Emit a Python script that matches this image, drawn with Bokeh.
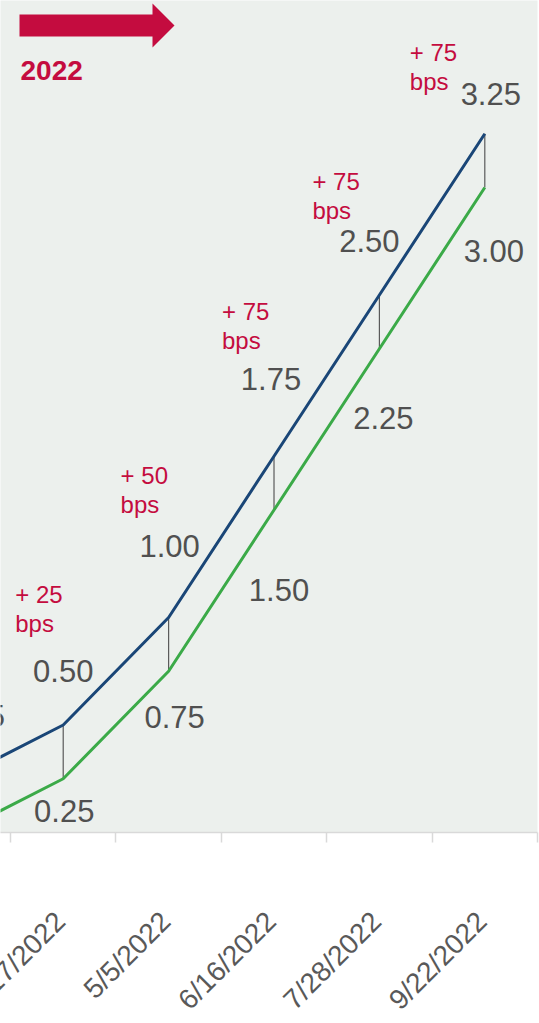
import math
from bokeh.plotting import figure
from bokeh.models import Range1d, FixedTicker, ColumnDataSource
from bokeh.core.properties import value
from bokeh.embed import file_html
from bokeh.resources import INLINE

# ---- data ----
dates = ["3/16/2020", "3/17/2022", "5/5/2022", "6/16/2022", "7/28/2022", "9/22/2022"]
upper = [0.25, 0.50, 1.00, 1.75, 2.50, 3.25]
lower = [0.00, 0.25, 0.75, 1.50, 2.25, 3.00]
hikes = ["", "+ 25", "+ 50", "+ 75", "+ 75", "+ 75"]
year_label = "2022"

# ---- label placement (screen px offsets from the data point) ----
upper_dx = [17, 0, 1, -3, -10, 6]
upper_dy = [-63, -54, -72, -77, -54, -40]
lower_dx = [0, 1, 6, 5, 4, 9]
lower_dy = [32, 32, 46, 80, 69, 63]
hike_dx = [0, -48, -48, -52, -67, -75]
hike_dy = [0, -131, -142, -145, -114, -81]
bps_gap = 29
date_standoff = 84
date_shift = -3

NAVY = "#1A4677"
GREEN = "#3BAA48"
CRIMSON = "#C40C3F"
VAL_GRAY = "#505050"
TICK_GRAY = "#595959"
BG = "#ECF0ED"
AXIS = "#D9D9D9"
FONT = "Liberation Sans"

W, H = 539, 1023
FRAME_W, FRAME_H = 537, 832
X0, X1 = 0.405, 5.5
Y0, Y1 = 0.0, 832 / 215.0

xs = list(range(len(dates)))

src = ColumnDataSource(dict(
    x=xs, upper=upper, lower=lower, dates=dates,
    ulab=[f"{v:.2f}" for v in upper], llab=[f"{v:.2f}" for v in lower],
    udx=upper_dx, udy=upper_dy, ldx=lower_dx, ldy=lower_dy,
    hike=hikes, bps=["bps" if h else "" for h in hikes],
    hdx=hike_dx, hdy=hike_dy, bdy=[d + bps_gap for d in hike_dy],
))

p = figure(width=W, height=H, output_backend="svg", toolbar_location=None,
           x_range=Range1d(X0, X1), y_range=Range1d(Y0, Y1),
           y_axis_location=None,
           min_border_left=0, min_border_right=W - FRAME_W,
           min_border_top=0, min_border_bottom=H - FRAME_H)
p.background_fill_color = BG
p.border_fill_color = "white"
p.outline_line_color = None
p.grid.visible = False

# x axis: tick marks only, at category boundaries; date labels drawn below
ax = p.xaxis[0]
ax.ticker = FixedTicker(ticks=[], minor_ticks=[x + 0.5 for x in xs])
ax.major_label_standoff = 0
ax.major_tick_out = 0
ax.major_tick_in = 0
ax.minor_tick_out = 10
ax.minor_tick_in = 0
ax.minor_tick_line_color = AXIS
ax.minor_tick_line_width = 1.5
ax.axis_line_color = AXIS
ax.axis_line_width = 1.5

# category (date) labels, rotated 45 degrees, ending under each category centre
p.text(x="x", y=Y0, text="dates", source=src, angle=math.pi / 4,
       x_offset=date_shift, y_offset=date_standoff,
       text_align="right", text_baseline="middle",
       text_font=value(FONT), text_font_size="28px", text_color=TICK_GRAY,
       level="annotation")

# high-low connectors
p.segment(x0="x", y0="upper", x1="x", y1="lower", source=src,
          line_color="#5A5A5A", line_width=1.2)
# series
p.line(x="x", y="lower", source=src, line_color=GREEN, line_width=3)
p.line(x="x", y="upper", source=src, line_color=NAVY, line_width=3)

# value labels
p.text(x="x", y="upper", text="ulab", x_offset="udx", y_offset="udy", source=src,
       text_align="center", text_baseline="alphabetic",
       text_font=value(FONT), text_font_size="31px", text_color=VAL_GRAY)
p.text(x="x", y="lower", text="llab", x_offset="ldx", y_offset="ldy", source=src,
       text_align="center", text_baseline="alphabetic",
       text_font=value(FONT), text_font_size="31px", text_color=VAL_GRAY)

# hike annotations
p.text(x="x", y="upper", text="hike", x_offset="hdx", y_offset="hdy", source=src,
       text_align="left", text_baseline="alphabetic",
       text_font=value(FONT), text_font_size="24px", text_color=CRIMSON)
p.text(x="x", y="upper", text="bps", x_offset="hdx", y_offset="bdy", source=src,
       text_align="left", text_baseline="alphabetic",
       text_font=value(FONT), text_font_size="24px", text_color=CRIMSON)

# year arrow (decoration, placed in screen pixels converted to data units)
def px_x(px):
    return X0 + px * (X1 - X0) / FRAME_W

def px_y(py):
    return Y1 - py * (Y1 - Y0) / FRAME_H

arrow_px = [(19, 14), (152, 14), (152, 3), (174, 25), (152, 47), (152, 36), (19, 36)]
p.patch(x=[px_x(a) for a, b in arrow_px], y=[px_y(b) for a, b in arrow_px],
        fill_color=CRIMSON, line_color=None)
p.text(x=[px_x(20)], y=[px_y(70)], text=[year_label], text_align="left",
       text_baseline="alphabetic", text_font=value(FONT), text_font_size="28px",
       text_font_style="bold", text_color=CRIMSON)

open("out.html", "w").write(file_html(p, INLINE))
